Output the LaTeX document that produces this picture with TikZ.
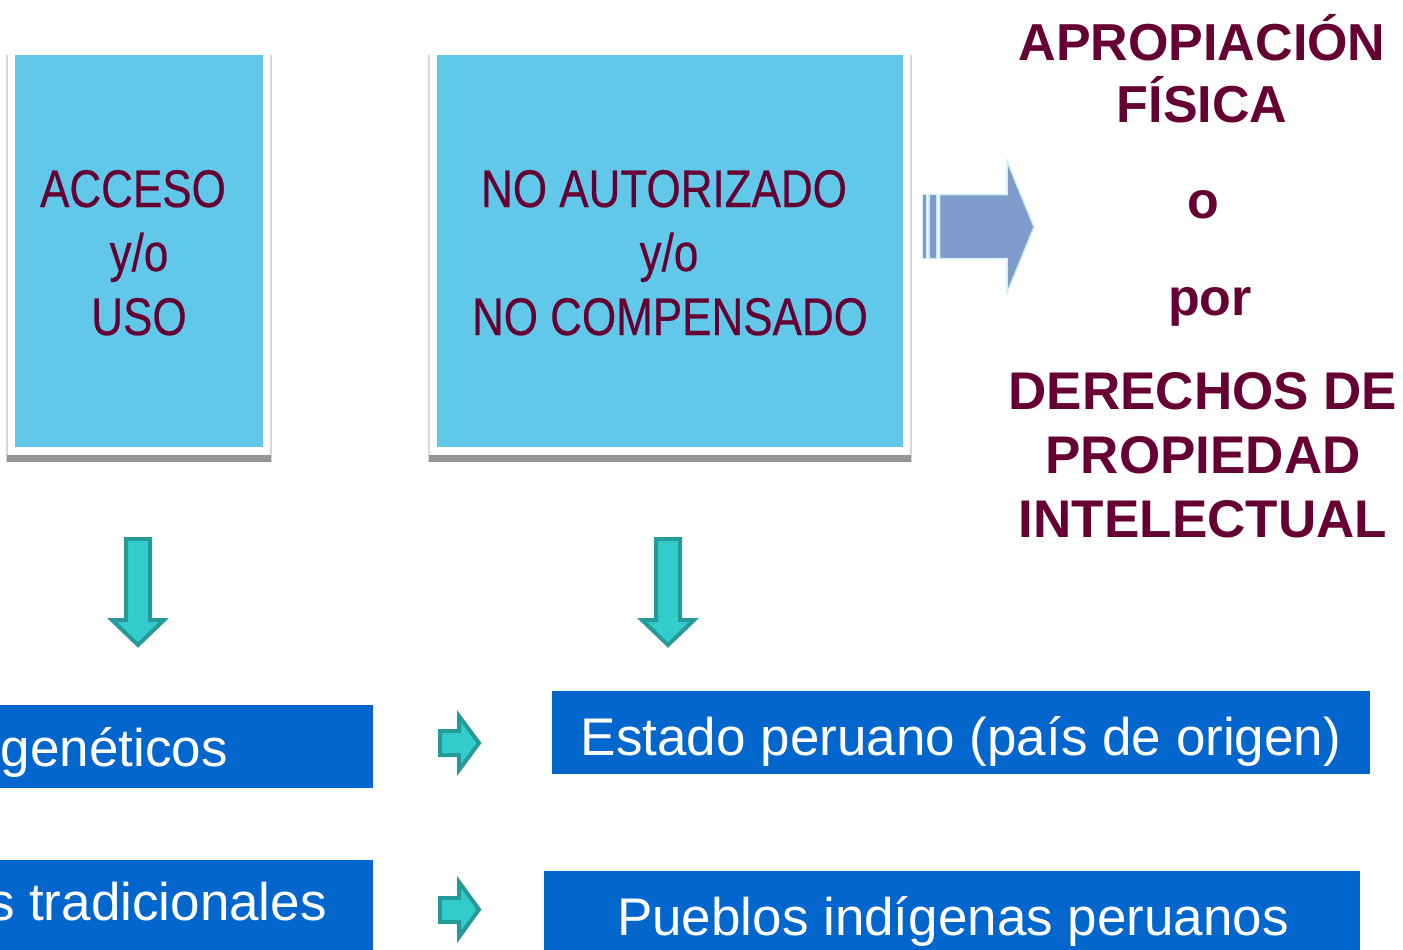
\documentclass[tikz,border=0pt]{standalone}
\usepackage{fontspec}
\setmainfont{Liberation Sans}
\newfontfamily\narrowfont[FakeStretch=0.83,FakeBold=0.4]{Liberation Sans}
\definecolor{maroon}{RGB}{102,0,51}
\definecolor{skyfill}{RGB}{98,200,233}
\definecolor{barblue}{RGB}{3,102,204}
\definecolor{shadowgray}{RGB}{149,149,149}
\definecolor{sidegray}{RGB}{215,215,215}
\definecolor{tealfill}{RGB}{51,204,204}
\definecolor{tealline}{RGB}{38,153,153}
\definecolor{bigfill}{RGB}{127,155,203}
\definecolor{bigline}{RGB}{205,238,242}
\tikzset{
  skybox/.style={fill=skyfill, inner sep=0pt, outer sep=0pt},
  boxtext/.style={anchor=base, text=maroon, inner sep=0pt, font=\narrowfont\fontsize{53}{64}\selectfont},
  titletext/.style={anchor=base, text=maroon, inner sep=0pt, font=\bfseries\fontsize{52}{64}\selectfont},
  titletextb/.style={anchor=base, text=maroon, inner sep=0pt, font=\bfseries\fontsize{53}{64}\selectfont},
  barbox/.style={fill=barblue, inner sep=0pt, outer sep=0pt},
  bartext/.style={text=white, inner sep=0pt, font=\fontsize{53}{64}\selectfont},
  tealarrow/.style={fill=tealfill, draw=tealline, line width=4pt, line join=miter},
  bigarrow/.style={fill=bigfill, draw=bigline, line width=1.5pt},
}
\begin{document}
\begin{tikzpicture}[x=1pt,y=-1pt]
\useasboundingbox (0,0) rectangle (1403,950);
% frame of box 1
\fill[white] (7,55) rectangle (271,462);
\draw[sidegray, line width=1.5pt] (7,55) -- (7,462) (271,55) -- (271,462);
\fill[shadowgray] (7,455) rectangle (271,462);
\node[skybox, minimum width=248pt, minimum height=392pt] (acc) at (139,251) {};
\node[boxtext] (acc1) at (133,207) {ACCESO};
\node[boxtext] (acc2) at (139,271) {y/o};
\node[boxtext] (acc3) at (139,335) {USO};
% frame of box 2
\fill[white] (429,55) rectangle (911,462);
\draw[sidegray, line width=1.5pt] (429,55) -- (429,462) (911,55) -- (911,462);
\fill[shadowgray] (429,455) rectangle (911,462);
\node[skybox, minimum width=466pt, minimum height=392pt] (nau) at (670,251) {};
\node[boxtext] (nau1) at (664,207) {NO AUTORIZADO};
\node[boxtext] (nau2) at (669,271) {y/o};
\node[boxtext] (nau3) at (670,335) {NO COMPENSADO};
% big arrow
\draw[bigarrow] (922.5,194.5) rectangle (926.5,258.5);
\draw[bigarrow] (929,194.5) rectangle (937,258.5);
\draw[bigarrow] (939.5,194.5) -- (1007,194.5) -- (1007,161) -- (1034,227) -- (1007,293) -- (1007,258.5) -- (939.5,258.5) -- cycle;
% title
\node[titletext] (t1) at (1202,61) {APROPIACIÓN};
\node[titletext] (t2) at (1202,122) {FÍSICA};
\node[titletext] (t3) at (1203,218) {o};
\node[titletext] (t4) at (1210,315) {por};
\node[titletextb] (t5) at (1203,409) {DERECHOS DE};
\node[titletextb] (t6) at (1203,473) {PROPIEDAD};
\node[titletextb] (t7) at (1203,537) {INTELECTUAL};
% down arrows
\draw[tealarrow] (126,539) -- (150,539) -- (150,620) -- (164,620) -- (138,645) -- (112,620) -- (126,620) -- cycle;
\draw[tealarrow] (656,539) -- (680,539) -- (680,620) -- (694,620) -- (668,645) -- (642,620) -- (656,620) -- cycle;
% bars
\node[barbox, minimum width=373pt, minimum height=83pt, anchor=north west] (b1) at (0,705) {};
\node[bartext, anchor=base east] (b1t) at (228,766) {genéticos};
\node[barbox, minimum width=373pt, minimum height=90pt, anchor=north west] (b2) at (0,860) {};
\node[bartext, anchor=base east] (b2t) at (327,920) {s tradicionales};
\node[barbox, minimum width=818pt, minimum height=83pt, anchor=north west] (b3) at (552,691) {};
\node[bartext, anchor=base] (b3t) at (961,755) {Estado peruano (país de origen)};
\node[barbox, minimum width=816pt, minimum height=79pt, anchor=north west] (b4) at (544,871) {};
\node[bartext, anchor=base] (b4t) at (953,935) {Pueblos indígenas peruanos};
% small right arrows
\draw[tealarrow] (440,731) -- (459,731) -- (459,716) -- (479,743) -- (459,770) -- (459,755) -- (440,755) -- cycle;
\draw[tealarrow] (440,898) -- (459,898) -- (459,882) -- (479,909.5) -- (459,937) -- (459,922) -- (440,922) -- cycle;
\end{tikzpicture}
\end{document}
